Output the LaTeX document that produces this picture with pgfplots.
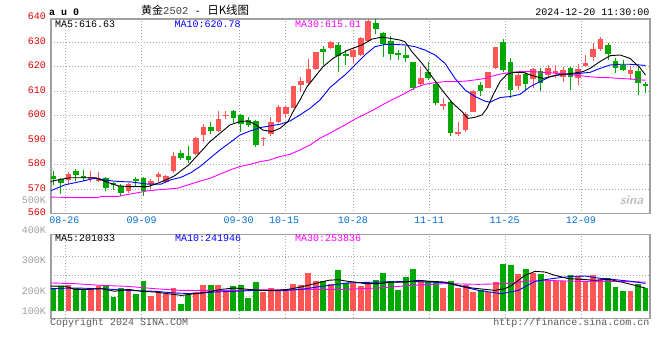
\documentclass[border=0pt]{standalone}
\usepackage{pgfplots}
\usepackage{pgfplotstable}
\pgfplotsset{compat=1.18}
\usepackage{fontspec}
\setmainfont{Liberation Sans}
\setmonofont{Liberation Mono}
\newfontfamily\cjk{Noto Sans CJK SC}
\definecolor{cred}{RGB}{255,85,85}
\definecolor{cgreen}{RGB}{0,168,0}
\definecolor{lblred}{RGB}{224,0,0}
\definecolor{lblblue}{RGB}{0,110,210}
\definecolor{lblgray}{RGB}{160,160,160}
\definecolor{framec}{RGB}{160,160,160}
\definecolor{gridc}{RGB}{170,170,170}
\definecolor{mablue}{RGB}{0,0,255}
\definecolor{mamag}{RGB}{255,0,255}
\definecolor{foot}{RGB}{90,90,90}

% up (red) candles: index, open, high, low, close, volume (K)
\pgfplotstableread{
i O H L C V
2 573.6 576.8 572.0 576.2 228
5 574.1 577.2 572.7 574.8 190
6 573.2 577.1 573.0 574.5 219
10 569.0 572.3 568.3 572.0 175
13 572.2 574.0 569.9 573.4 134
14 574.8 576.8 572.7 576.2 164
15 572.9 575.8 572.6 575.4 149
16 577.2 585.3 576.5 583.6 199
19 584.4 591.3 584.0 591.0 164
20 592.1 596.5 589.4 595.4 228
22 593.7 601.9 593.2 598.6 228
23 600.0 601.9 598.6 600.4 178
28 590.6 591.3 587.8 591.0 170
29 592.4 599.6 591.8 597.3 205
30 597.3 604.4 596.9 603.5 184
31 600.8 604.0 598.9 603.5 178
32 603.3 612.3 603.0 612.2 237
33 612.5 615.7 609.5 614.1 228
34 613.2 623.1 612.5 619.0 336
35 618.9 626.2 618.6 626.1 263
37 627.5 630.5 627.3 630.2 240
40 624.1 627.9 621.6 626.8 246
41 624.8 632.3 624.5 631.9 216
42 630.6 639.5 630.2 638.7 246
49 612.8 620.0 612.2 615.5 275
52 604.2 607.1 602.3 604.6 205
54 592.4 597.3 591.8 593.5 205
55 594.2 601.6 593.2 600.6 225
56 601.6 610.4 601.4 610.1 167
58 611.4 618.0 611.2 617.7 167
59 619.6 628.2 619.1 627.9 254
62 612.3 617.3 610.5 616.6 325
64 615.0 619.6 611.2 619.1 336
66 616.6 620.7 615.2 619.6 260
67 617.7 620.9 615.2 618.2 260
68 615.9 620.0 613.9 618.5 260
70 615.2 621.0 612.5 619.1 304
71 620.3 624.7 620.0 621.4 260
72 624.1 629.5 622.3 627.2 313
73 627.2 632.3 626.4 631.3 284
77 617.0 620.4 614.6 618.7 175
}\upc

% down (green) candles
\pgfplotstableread{
i O H L C V
0 575.4 577.2 571.7 574.3 199
1 574.0 574.4 567.8 572.3 219
3 577.4 578.2 573.5 575.8 205
4 575.3 577.8 573.5 574.8 184
7 574.4 574.8 569.0 570.6 219
8 572.6 573.0 569.6 571.7 126
9 571.3 572.0 567.2 568.3 205
11 574.2 574.8 570.8 573.4 149
12 574.5 574.8 567.0 569.0 266
17 584.9 586.0 582.0 582.6 61
18 583.6 587.6 580.6 581.9 140
21 595.4 597.3 592.7 593.9 228
24 601.9 602.3 596.9 599.2 219
25 600.3 600.6 593.2 596.5 228
26 598.3 599.6 595.2 596.0 117
27 597.8 598.2 587.3 588.0 257
36 627.2 628.6 620.9 626.1 263
38 628.9 630.2 617.7 624.5 363
39 625.2 626.8 620.7 624.5 246
43 637.7 639.5 633.5 635.4 275
44 633.6 634.3 624.1 629.1 333
45 630.6 632.7 622.7 625.2 266
46 625.7 626.8 622.6 624.8 187
47 624.8 628.6 622.0 623.7 298
48 621.9 621.9 610.5 611.4 368
50 618.0 621.8 614.6 615.5 260
51 612.9 613.9 604.3 605.0 260
53 605.4 606.0 591.8 592.8 260
57 612.5 613.9 608.2 610.1 187
60 629.9 631.3 618.0 618.7 415
61 621.8 623.4 607.3 610.5 404
63 616.9 618.2 610.5 612.8 371
65 618.2 619.6 610.1 613.2 327
69 619.6 620.0 610.5 615.9 313
74 628.8 629.5 622.8 625.2 290
75 622.3 623.7 617.3 619.6 215
76 620.9 622.7 618.2 618.7 175
78 618.2 620.0 608.5 613.2 235
79 613.1 613.9 609.1 612.3 205
}\downc

\pgfplotstableread{
x y
50.7 573.1
61 574.0
70 574.6
96 574.6
106 573.0
118 571.3
130 571.0
148 571.0
158 572.4
168 574.1
175 575.5
181 577.5
188 579.6
198 584.0
210 589.4
220 592.8
230 596.2
240 597.6
248 597.8
255 596.5
263 594.1
272 593.5
280 594.8
288 597.6
293 601.6
300 606.4
307 611.8
315 615.9
323 620.0
333 623.4
340 625.1
348 626.8
362 628.9
372 631.3
382 632.1
390 631.6
400 630.9
405 630.2
412 626.1
422 621.4
432 615.9
442 610.5
452 605.4
462 601.6
468 598.9
475 599.3
482 600.3
487 603.0
493 608.4
500 613.9
507 616.9
513 617.7
523 617.7
533 616.3
543 615.2
553 616.2
563 616.9
573 617.3
583 618.0
590 619.3
600 622.1
610 624.5
620 624.8
630 623.4
640 619.6
645.5 616.6
}\mafive

\pgfplotstableread{
x y
50.7 569.3
64.7 571.7
81 573.1
94.7 574.4
108 573.5
118 573.1
131 572.9
148 572.0
161 572.0
171 573.8
181 574.8
191 576.7
200 579.2
210 582.6
220 586.0
230 589.0
240 592.1
250 593.7
260 595.1
270 595.8
280 596.5
290 597.8
300 600.3
310 603.0
320 606.4
330 611.5
335 613.2
340 615.0
345 616.6
355 620.7
365 624.8
375 628.2
385 629.1
395 629.1
405 628.9
415 628.2
425 626.8
435 624.8
445 621.4
455 615.2
465 610.5
475 607.8
485 605.9
490 605.5
500 607.4
510 607.8
520 608.7
530 611.8
540 613.9
550 615.9
560 616.9
570 616.9
580 617.3
590 617.7
600 619.3
610 620.7
620 621.0
630 621.0
640 620.7
645.5 620.5
}\maten

\pgfplotstableread{
x y
50.7 566.7
78 566.5
98 566.5
101 567.0
118 567.0
125 567.6
135 568.3
148 569.3
158 569.7
168 570.0
178 570.4
188 571.7
198 573.0
210 574.4
220 576.1
230 577.8
240 579.2
250 580.1
260 581.2
270 581.9
280 583.3
290 584.2
300 586.0
310 588.0
320 590.8
330 592.8
335 594.0
345 596.2
355 598.6
365 600.6
375 602.7
385 605.0
395 607.1
405 609.1
415 611.4
425 612.8
435 613.5
445 613.9
455 613.9
465 614.1
475 614.6
485 615.2
490 615.9
500 617.0
510 617.6
520 618.0
530 618.0
540 617.8
550 617.5
560 617.2
570 616.8
580 616.3
590 615.9
600 615.6
610 615.5
620 615.2
630 615.0
640 614.6
645.5 614.5
}\mathirty

\pgfplotstableread{
x y
50.7 219
64.7 219
74.7 190
88 190
101.3 196
114.7 173
128 190
141.3 173
154.7 167
168 152
181.3 137
194.7 152
208 167
221.3 190
234.7 202
248 190
261.3 181
274.7 181
288 190
301.3 211
314.7 240
328 269
338 275
348 260
355 254
365 240
378.3 240
391.7 254
405 254
418.3 269
431.7 260
445 254
458.3 225
471.7 202
485 190
495 181
505 196
511.7 225
525 313
535 348
545 342
555 313
568.3 284
581.7 278
595 269
608.3 278
621.7 254
635 225
645.5 201
}\vfive

\pgfplotstableread{
x y
50.7 196
74.7 202
101.3 196
128 181
154.7 173
174.7 158
194.7 152
214.7 167
234.7 173
254.7 181
281.3 178
301.3 190
321.3 216
348 247
378.3 254
411.7 260
445 249
478.3 181
501.7 152
518.3 181
535 260
551.7 284
571.7 304
585 307
598.3 289
611.7 278
631.7 260
645.5 242
}\vten

\pgfplotstableread{
x y
50.7 246
74.7 240
101.3 225
128 216
154.7 196
181.3 181
208 181
234.7 181
261.3 187
288 187
314.7 190
345 190
378.3 202
411.7 225
445 240
478.3 234
505 240
525 260
545 269
578.3 260
611.7 260
645.5 254
}\vthirty

\pgfplotsset{
  kgrid/.style={
    xmin=50.7, xmax=650,
    xtick={65.3,141.7,239.3,285.7,353.3,429.3,505.3,581.7},
    xticklabels={}, yticklabels={},
    major tick length=0pt,
    grid=major,
    grid style={gridc, line width=0.9pt, dash pattern=on 1pt off 2pt},
    axis line style={framec, line width=1.6pt},
    scale only axis,
    anchor=south west,
  },
  wick/.style={draw=none, mark=none, forget plot,
    error bars/.cd, y dir=both, y explicit, error mark=none,
    error bar style={draw=#1, line width=1pt, line cap=butt}},
  body/.style={draw=none, mark=none, forget plot,
    error bars/.cd, y dir=both, y explicit, error mark=none,
    error bar style={draw=#1, line width=5.6pt, line cap=butt}},
  vbar/.style={draw=none, mark=none, forget plot,
    error bars/.cd, y dir=both, y explicit, error mark=none,
    error bar style={draw=#1, line width=5.8pt, line cap=butt}},
}

\begin{document}
\begin{tikzpicture}
\fill[white] (0pt,0pt) rectangle (660pt,-360pt);
\path[use as bounding box] (0pt,0pt) rectangle (660pt,-360pt);

% ---- price axis ----
\begin{axis}[kgrid,
  at={(50.7pt,-213.5pt)},
  width=599.3pt, height=194.5pt,
  ymin=560, ymax=639.5,
  ytick={570,580,590,600,610,620,630},
]
\addplot[wick=cred] table[x expr=53.5+7.494*\thisrow{i}, y expr=(\thisrow{H}+\thisrow{L})/2, y error expr=(\thisrow{H}-\thisrow{L})/2] {\upc};
\addplot[wick=cgreen] table[x expr=53.5+7.494*\thisrow{i}, y expr=(\thisrow{H}+\thisrow{L})/2, y error expr=(\thisrow{H}-\thisrow{L})/2] {\downc};
\addplot[body=cred] table[x expr=53.5+7.494*\thisrow{i}, y expr=(\thisrow{O}+\thisrow{C})/2, y error expr=abs(\thisrow{C}-\thisrow{O})/2] {\upc};
\addplot[body=cgreen] table[x expr=53.5+7.494*\thisrow{i}, y expr=(\thisrow{O}+\thisrow{C})/2, y error expr=abs(\thisrow{C}-\thisrow{O})/2] {\downc};
\addplot[mamag, line width=0.9pt, mark=none] table {\mathirty};
\addplot[mablue, line width=0.9pt, mark=none] table {\maten};
\addplot[black, line width=0.9pt, mark=none] table {\mafive};
\end{axis}

% ---- volume axis ----
\begin{axis}[kgrid,
  at={(50.7pt,-318.3pt)},
  width=599.3pt, height=84pt,
  ymin=-64, ymax=673,
  ytick={132,316,482},
]
\addplot[vbar=cred] table[x expr=53.5+7.494*\thisrow{i}, y expr=\thisrow{V}/2, y error expr=\thisrow{V}/2] {\upc};
\addplot[vbar=cgreen] table[x expr=53.5+7.494*\thisrow{i}, y expr=\thisrow{V}/2, y error expr=\thisrow{V}/2] {\downc};
\addplot[mamag, line width=0.9pt, mark=none] table {\vthirty};
\addplot[mablue, line width=0.9pt, mark=none] table {\vten};
\addplot[black, line width=0.9pt, mark=none] table {\vfive};
\end{axis}

\begin{scope}[x=1pt, y=-1pt, every node/.style={inner sep=0pt, font=\ttfamily\fontsize{10}{12}\selectfont}]
% header
\node[anchor=base west, font=\ttfamily\bfseries\fontsize{10}{12}\selectfont] at (49,15) {a u 0};
\node[anchor=base west, font=\fontsize{11}{13}\selectfont] at (141,14.5) {{\cjk 黄金}{\ttfamily\fontsize{10.5}{12}\selectfont\color{black!75}2502}{\ttfamily\fontsize{10.5}{12}\selectfont{} - }{\cjk\fontsize{11.5}{13}\selectfont 日K线图}};
\node[anchor=base east] at (649.5,15) {2024-12-20 11:30:00};
% price legend
\node[anchor=base west] at (55,27.4) {MA5:616.63};
\node[anchor=base west, text=mablue] at (174.3,27.4) {MA10:620.78};
\node[anchor=base west, text=mamag] at (295,27.4) {MA30:615.01};
% price labels
\foreach \v/\yy in {640/16.4,630/40.9,620/65.4,610/89.9,600/114.4,590/138.9,580/163.4,570/187.9,560/212.4}
  \node[anchor=east, text=lblred] at (46,\yy) {\v};
\node[anchor=east, text=lblgray] at (46,200) {500K};
% date labels
\foreach \xx/\d in {64.5/08-26,141.7/09-09,238.5/09-30,284/10-15,352.8/10-28,429.2/11-11,504.7/11-25,580.8/12-09}
  \node[anchor=center, text=lblblue] at (\xx,220.6) {\d};
% sina mark
\node[anchor=base west, text=black!25, font=\sffamily\bfseries\itshape\fontsize{13}{14}\selectfont] at (620,204) {sina};
% volume labels
\foreach \v/\yy in {400K/230,300K/260,200K/290.7,100K/311}
  \node[anchor=east, text=lblgray] at (46,\yy) {\v};
% volume legend
\node[anchor=base west] at (55,241.7) {MA5:201033};
\node[anchor=base west, text=mablue] at (175,241.7) {MA10:241946};
\node[anchor=base west, text=mamag] at (295,241.7) {MA30:253836};
% footer
\node[anchor=base west, text=foot] at (50,325.6) {Copyright 2024 SINA.COM};
\node[anchor=base east, text=foot] at (649.5,325.6) {http://finance.sina.com.cn};
\end{scope}
\end{tikzpicture}
\end{document}
